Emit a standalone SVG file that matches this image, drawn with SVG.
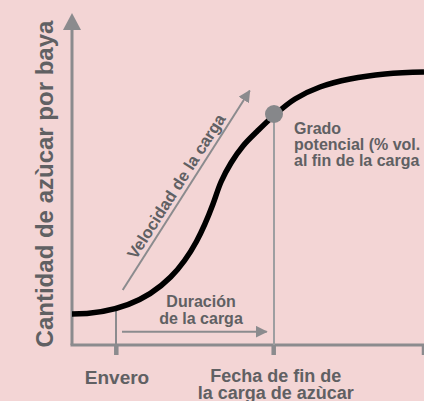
<svg xmlns="http://www.w3.org/2000/svg" width="424" height="401" viewBox="0 0 424 401">
<style>
.lbl{font-family:"Liberation Sans",Arial,sans-serif;font-weight:bold;fill:#606063;}
.ax{stroke:#8b8b8e;stroke-width:3;fill:none;}
.guide{stroke:#8b8b8e;stroke-width:2;fill:none;}
.arr{stroke:#8b8b8e;stroke-width:2;fill:none;marker-end:url(#ah);}
</style>
<defs>
<marker id="ah" viewBox="0 0 12 12" markerUnits="userSpaceOnUse" markerWidth="12" markerHeight="12" refX="11" refY="6" orient="auto">
<path d="M0,0 L12,6 L0,12 Z" fill="#8b8b8e"/>
</marker>
</defs>
<rect width="424" height="401" fill="#f3d5d5"/>
<g id="axes">
<line class="ax" x1="72" y1="345" x2="72" y2="29"/>
<polygon points="72,13 63,30 81,30" fill="#8b8b8e"/>
<line class="ax" x1="70.5" y1="345" x2="424" y2="345"/>
<line x1="116.3" y1="344" x2="116.3" y2="355" stroke="#8b8b8e" stroke-width="4.5"/>
<line x1="273.7" y1="344" x2="273.7" y2="355" stroke="#8b8b8e" stroke-width="4.5"/>
<line x1="424" y1="344" x2="424" y2="355" stroke="#8b8b8e" stroke-width="4.5"/>
</g>
<g id="connectors">
<line class="guide" x1="116" y1="311" x2="116" y2="345"/>
<line x1="274" y1="114" x2="274" y2="345" stroke="#9d9ea1" stroke-width="2"/>
<line class="arr" x1="122.7" y1="290" x2="249.7" y2="90.7"/>
<line class="arr" x1="122" y1="331.7" x2="266.7" y2="331.7"/>
</g>
<g id="curve">
<path d="M72,314 C165,314 195,252 213,204 C215.7,196.8 218,188.83 221,182 C224,175.17 227.33,169 231,163 C234.67,157 238.67,151.25 243,146 C247.33,140.75 251.83,136.58 257,131.5 C262.17,126.42 267.67,120.92 274,115.5 C280.33,110.08 287.33,103.75 295,99 C302.67,94.25 310.83,90.33 320,87 C329.17,83.67 339.17,81.17 350,79 C360.83,76.83 372.67,75.17 385,74 C397.33,72.83 411,72.3 424,72" fill="none" stroke="#000" stroke-width="5.5"/>
</g>
<g id="dot">
<circle cx="274" cy="114" r="9" fill="#86878a"/>
</g>
<g id="ylabel">
<text class="lbl" font-size="24" text-anchor="middle" transform="translate(52.5,184) rotate(-90)">Cantidad de azùcar por baya</text>
</g>
<g id="velocidad">
<text class="lbl" font-size="16.5" text-anchor="middle" transform="translate(181,189.5) rotate(-57.5)">Velocidad de la carga</text>
</g>
<g id="duracion">
<text class="lbl" font-size="16" text-anchor="middle" x="201" y="307.3">Duración</text>
<text class="lbl" font-size="16" text-anchor="middle" x="201" y="323.5">de la carga</text>
</g>
<g id="grado">
<text class="lbl" font-size="16" x="294" y="133.5">Grado</text>
<text class="lbl" font-size="16" x="294" y="149.8">potencial (% vol.</text>
<text class="lbl" font-size="16" x="294" y="166">al fin de la carga</text>
</g>
<g id="envero">
<text class="lbl" font-size="19" text-anchor="middle" x="117" y="384">Envero</text>
</g>
<g id="fecha">
<text class="lbl" font-size="18" text-anchor="middle" x="275.7" y="382">Fecha de fin de</text>
<text class="lbl" font-size="18" text-anchor="middle" x="275.7" y="399">la carga de azùcar</text>
</g>
</svg>
